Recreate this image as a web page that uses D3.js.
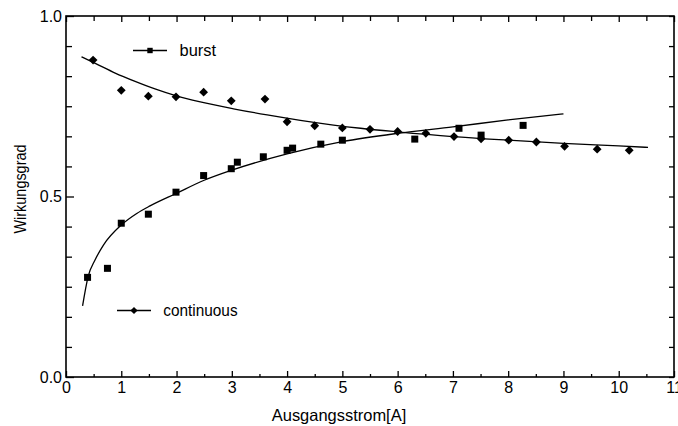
<!DOCTYPE html>
<html>
<head>
<meta charset="utf-8">
<script src="https://cdn.jsdelivr.net/npm/d3@7"></script>
<style>
  body { margin: 0; background: #fff; }
  text { font-family: "Liberation Sans", Arial, sans-serif; fill: #000; }
</style>
</head>
<body>
<script>
// burst measurements (squares)
var burstX = [0.39, 0.75, 1.0, 1.49, 1.99, 2.49, 2.99, 3.1, 3.57, 4.0, 4.1, 4.61, 5.0, 6.31, 7.11, 7.51, 8.27];
var burstY = [0.276, 0.301, 0.426, 0.451, 0.512, 0.558, 0.577, 0.595, 0.610, 0.628, 0.634, 0.645, 0.656, 0.659, 0.689, 0.670, 0.697];

// continuous measurements (diamonds)
var contX = [0.49, 1.0, 1.49, 1.99, 2.49, 2.99, 3.6, 4.0, 4.5, 5.0, 5.5, 6.0, 6.51, 7.02, 7.51, 8.01, 8.51, 9.02, 9.61, 10.19];
var contY = [0.878, 0.794, 0.778, 0.776, 0.789, 0.765, 0.770, 0.707, 0.696, 0.690, 0.686, 0.680, 0.675, 0.666, 0.660, 0.656, 0.651, 0.639, 0.631, 0.628];

// fitted curves
var burstFitX = [0.3, 0.4, 0.525, 0.68, 1.0, 1.28, 1.52, 2.0, 2.5, 3.0, 4.0, 5.0, 6.0, 7.0, 8.0, 9.0];
var burstFitY = [0.197, 0.278, 0.324, 0.366, 0.421, 0.453, 0.474, 0.509, 0.545, 0.573, 0.618, 0.652, 0.675, 0.693, 0.712, 0.729];
var contFitX = [0.28, 0.53, 0.89, 1.25, 1.61, 1.97, 2.43, 3.03, 3.64, 4.24, 4.84, 5.33, 6.0, 7.0, 8.0, 9.0, 10.0, 10.53];
var contFitY = [0.887, 0.869, 0.842, 0.819, 0.798, 0.780, 0.762, 0.743, 0.726, 0.711, 0.698, 0.689, 0.679, 0.666, 0.656, 0.647, 0.640, 0.636];

var xTicks = [0, 1, 2, 3, 4, 5, 6, 7, 8, 9, 10, 11];
var yTicks = [0.0, 0.5, 1.0];

var width = 678, height = 426;
var margin = {top: 16, right: 4, bottom: 49, left: 66};

var svg = d3.select("body").append("svg")
  .attr("width", width).attr("height", height);

var x = d3.scaleLinear().domain([0, 11]).range([margin.left, width - margin.right]);
var y = d3.scaleLinear().domain([0, 1]).range([height - margin.bottom, margin.top]);

var xMinor = d3.range(0, 11).map(function(i) { return i + 0.5; });
var yMinor = d3.range(1, 12).map(function(i) { return i / 12; }).filter(function(v) { return Math.abs(v - 0.5) > 1e-6; });

function styleAxis(g) {
  g.select(".domain").remove();
  g.selectAll("line").attr("stroke", "#000").attr("stroke-width", 1.3);
  g.selectAll("text").style("font-size", "16px").style("font-family", "Liberation Sans, Arial, sans-serif");
}

// bottom
svg.append("g").attr("transform", "translate(0," + y(0) + ")")
  .call(d3.axisBottom(x).tickValues(xTicks).tickSize(-6).tickPadding(5).tickFormat(d3.format("d")))
  .call(styleAxis);
svg.append("g").attr("transform", "translate(0," + y(0) + ")")
  .call(d3.axisBottom(x).tickValues(xMinor).tickSize(-3).tickFormat(""))
  .call(styleAxis);
// top
svg.append("g").attr("transform", "translate(0," + y(1) + ")")
  .call(d3.axisTop(x).tickValues(xTicks).tickSize(-6).tickFormat(""))
  .call(styleAxis);
svg.append("g").attr("transform", "translate(0," + y(1) + ")")
  .call(d3.axisTop(x).tickValues(xMinor).tickSize(-5).tickFormat(""))
  .call(styleAxis);
// left
svg.append("g").attr("transform", "translate(" + x(0) + ",0)")
  .call(d3.axisLeft(y).tickValues(yTicks).tickSize(-8).tickPadding(4).tickFormat(d3.format(".1f")))
  .call(styleAxis);
svg.append("g").attr("transform", "translate(" + x(0) + ",0)")
  .call(d3.axisLeft(y).tickValues(yMinor).tickSize(-6).tickFormat(""))
  .call(styleAxis);
// right
svg.append("g").attr("transform", "translate(" + x(11) + ",0)")
  .call(d3.axisRight(y).tickValues(yTicks.concat(yMinor)).tickSize(-5).tickFormat(""))
  .call(styleAxis);

// frame
svg.append("rect")
  .attr("x", x(0)).attr("y", y(1))
  .attr("width", x(11) - x(0)).attr("height", y(0) - y(1))
  .attr("fill", "none").attr("stroke", "#000").attr("stroke-width", 1.6);

// fit lines
var line = d3.line().x(function(d) { return x(d[0]); }).y(function(d) { return y(d[1]); })
  .curve(d3.curveMonotoneX);

svg.append("path").datum(d3.zip(burstFitX, burstFitY))
  .attr("d", line).attr("fill", "none").attr("stroke", "#000").attr("stroke-width", 1.3);
svg.append("path").datum(d3.zip(contFitX, contFitY))
  .attr("d", line).attr("fill", "none").attr("stroke", "#000").attr("stroke-width", 1.3);

// markers
var diamond = function(r) { return "M0," + (-r) + "L" + r + ",0L0," + r + "L" + (-r) + ",0Z"; };

svg.append("g").selectAll("rect").data(d3.zip(burstX, burstY)).enter().append("rect")
  .attr("x", function(d) { return x(d[0]) - 3.5; })
  .attr("y", function(d) { return y(d[1]) - 3.5; })
  .attr("width", 7).attr("height", 7).attr("fill", "#000");

svg.append("g").selectAll("path").data(d3.zip(contX, contY)).enter().append("path")
  .attr("transform", function(d) { return "translate(" + x(d[0]) + "," + y(d[1]) + ")"; })
  .attr("d", diamond(4.4)).attr("fill", "#000");

// legend
var lg1 = svg.append("g").attr("transform", "translate(133,50.5)");
lg1.append("line").attr("x1", 0).attr("x2", 34).attr("stroke", "#000").attr("stroke-width", 1.3);
lg1.append("rect").attr("x", 17 - 2.7).attr("y", -2.7).attr("width", 5.4).attr("height", 5.4).attr("fill", "#000");
lg1.append("text").attr("x", 46.5).attr("y", 5.5).style("font-size", "16px")
  .attr("textLength", 36.5).attr("lengthAdjust", "spacingAndGlyphs").text("burst");

var lg2 = svg.append("g").attr("transform", "translate(117,310.5)");
lg2.append("line").attr("x1", 0).attr("x2", 34).attr("stroke", "#000").attr("stroke-width", 1.3);
lg2.append("path").attr("transform", "translate(17,0)").attr("d", diamond(3.6)).attr("fill", "#000");
lg2.append("text").attr("x", 46.3).attr("y", 5.5).style("font-size", "16px")
  .attr("textLength", 74.3).attr("lengthAdjust", "spacingAndGlyphs").text("continuous");

// axis titles
svg.append("text")
  .attr("x", 339).attr("y", 421).attr("text-anchor", "middle")
  .style("font-size", "16.5px")
  .attr("textLength", 134.5).attr("lengthAdjust", "spacingAndGlyphs")
  .text("Ausgangsstrom[A]");

svg.append("text")
  .attr("transform", "translate(26,189) rotate(-90)")
  .attr("text-anchor", "middle")
  .style("font-size", "16.5px")
  .attr("textLength", 89).attr("lengthAdjust", "spacingAndGlyphs")
  .text("Wirkungsgrad");
</script>
</body>
</html>
